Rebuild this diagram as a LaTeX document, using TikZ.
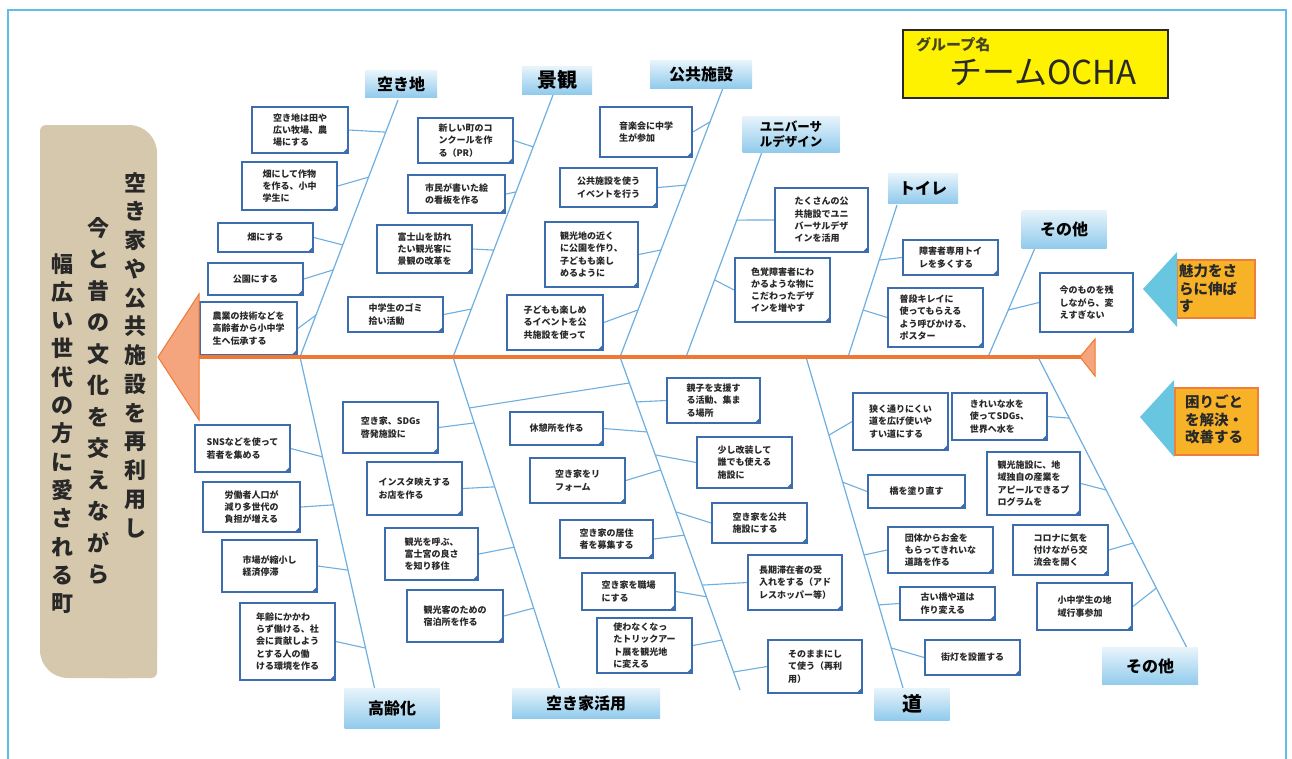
\documentclass[tikz,border=0pt]{standalone}
\usepackage{fontspec}
\setmainfont{Noto Sans CJK JP}
\usetikzlibrary{calc,shadings}
\pgfdeclarelayer{bg}
\pgfsetlayers{bg,main}

\definecolor{bonec}{RGB}{110,175,225}
\definecolor{notec}{RGB}{60,110,175}
\definecolor{spinec}{RGB}{240,120,50}
\definecolor{spinefill}{RGB}{245,165,125}
\definecolor{tanc}{RGB}{214,200,172}
\definecolor{framec}{RGB}{95,190,230}
\definecolor{labtop}{RGB}{232,244,251}
\definecolor{labbot}{RGB}{145,203,236}
\definecolor{orangebox}{RGB}{247,178,40}
\definecolor{orangeedge}{RGB}{240,125,60}
\definecolor{tricol}{RGB}{105,198,225}
\definecolor{yellowc}{RGB}{255,242,0}
\definecolor{inkc}{RGB}{40,40,40}
\definecolor{grpc}{RGB}{70,70,30}

\tikzset{
  bone/.style={draw=bonec, line width=1.2pt},
  twig/.style={draw=bonec, line width=1.1pt},
  note/.style={draw=notec, line width=1.7pt, fill=white, inner sep=0pt, align=left, text=inkc,
    font=\fontsize{9}{12.3}\selectfont\bfseries},
  cat/.style={top color=labtop, bottom color=labbot, draw=none, inner sep=0pt, align=left,
    font=\fontsize{16}{18}\selectfont\bfseries},
  vt/.style={anchor=north, align=center, inner sep=0pt, text=inkc},
  gbox/.style={fill=orangebox, draw=orangeedge, line width=1.5pt, inner sep=0pt},
  gtext/.style={anchor=north west, align=left, inner sep=0pt, text=inkc,
    font=\fontsize{14.5}{17.5}\selectfont\bfseries},
}

\newcommand\stickynote[6]{%
  \node[note, minimum width={(#4-#2)*1pt}, minimum height={(#5-#3)*1pt}] (#1) at ({(#2+#4)/2},{(#3+#5)/2}) {#6};
  \fill[notec] ([xshift=-7pt]#1.south east) -- ([yshift=7pt]#1.south east) -- ([xshift=-1.5pt,yshift=1.5pt]#1.south east) -- cycle;
}

\begin{document}
\begin{tikzpicture}[x=1pt,y=-1pt]
\useasboundingbox (0,0) rectangle (1292,758);

\begin{pgfonlayer}{bg}
\fill[white] (0,0) rectangle (1292,758);
% left banner
\fill[tanc, rounded corners=28pt] (40,125) rectangle (157,678);
\fill[tanc, rounded corners=6pt] (40,125) rectangle (100,400);
\fill[tanc, rounded corners=6pt] (100,400) rectangle (157,678);
\end{pgfonlayer}

% outer frame
\draw[framec, line width=1.5pt] (8,760) -- (8,10) -- (1286,10) -- (1286,760);

% ---------- left banner text ----------
\node[vt, font=\fontsize{22}{28.75}\selectfont\bfseries] (V1) at (135,172) {空\\き\\家\\や\\公\\共\\施\\設\\を\\再\\利\\用\\し};
\node[vt, font=\fontsize{22}{31.5}\selectfont\bfseries] (V2) at (98,217) {今\\と\\昔\\の\\文\\化\\を\\交\\え\\な\\が\\ら};
\node[vt, font=\fontsize{22}{28.3}\selectfont\bfseries] (V3) at (62,253) {幅\\広\\い\\世\\代\\の\\方\\に\\愛\\さ\\れ\\る\\町};

% ---------- title ----------
\node[fill=yellowc, draw=inkc, line width=1.6pt, minimum width=265pt, minimum height=68pt, inner sep=0pt] (title) at (1035.5,64) {};
\node[anchor=west, inner sep=0pt, text=grpc, font=\fontsize{15}{17}\selectfont\bfseries] (grp) at (916,45) {グループ名};
\node[inner sep=0pt, text=inkc, font=\fontsize{33}{36}\selectfont] (team) at (1043,73) {チームOCHA};

% ---------- category labels ----------
\node[cat, minimum width=72pt, minimum height=27pt] (L1) at (401,84) {空き地};
\node[cat, minimum width=70pt, minimum height=28pt, font=\fontsize{20}{22}\selectfont\bfseries] (L2) at (557,80) {景観};
\node[cat, minimum width=102pt, minimum height=28pt] (L3) at (701,74) {公共施設};
\node[cat, minimum width=97pt, minimum height=36pt, font=\fontsize{12.5}{15}\selectfont\bfseries] (L4) at (791,134) {ユニバーサ\\ルデザイン};
\node[cat, minimum width=70pt, minimum height=30pt] (L5) at (923,188) {トイレ};
\node[cat, minimum width=85pt, minimum height=38pt] (L6) at (1064,229) {その他};
\node[cat, minimum width=95pt, minimum height=40pt] (L7) at (392,708) {高齢化};
\node[cat, minimum width=148pt, minimum height=30pt] (L8) at (586,703) {空き家活用};
\node[cat, minimum width=75pt, minimum height=32pt, font=\fontsize{20}{22}\selectfont\bfseries] (L9) at (912,704) {道};
\node[cat, minimum width=96pt, minimum height=37pt] (L10) at (1150,666) {その他};

% ---------- sticky notes ----------
\stickynote{N1}{252}{107}{348}{153}{空き地は田や\\広い牧場、農\\場にする}
\stickynote{N2}{242}{162}{337}{210}{畑にして作物\\を作る、小中\\学生に}
\stickynote{N3}{218}{223}{313}{252}{畑にする}
\stickynote{N4}{208}{263}{303}{295}{公園にする}
\stickynote{N5}{200}{302}{297}{355}{農業の技術などを\\高齢者から小中学\\生へ伝承する}

\stickynote{K1}{418}{118}{513}{163}{新しい町のコ\\ンクールを作\\る（PR）}
\stickynote{K2}{408}{175}{505}{213}{市民が書いた絵\\の看板を作る}
\stickynote{K3}{377}{225}{472}{273}{富士山を訪れ\\たい観光客に\\景観の改革を}
\stickynote{K4}{348}{297}{443}{332}{中学生のゴミ\\拾い活動}

\stickynote{P1}{600}{107}{692}{157}{音楽会に中学\\生が参加}
\stickynote{P2}{560}{168}{657}{207}{公共施設を使う\\イベントを行う}
\stickynote{P3}{545}{222}{638}{287}{観光地の近く\\に公園を作り、\\子どもも楽し\\めるように}
\stickynote{P4}{507}{295}{603}{350}{子どもも楽しめ\\るイベントを公\\共施設を使って}

\stickynote{U1}{775}{188}{868}{252}{たくさんの公\\共施設でユニ\\バーサルデザ\\インを活用}
\stickynote{U2}{735}{258}{830}{322}{色覚障害者にわ\\かるような物に\\こだわったデザ\\インを増やす}

\stickynote{T1}{903}{240}{998}{275}{障害者専用トイ\\レを多くする}
\stickynote{T2}{888}{288}{983}{347}{普段キレイに\\使ってもらえる\\よう呼びかける、\\ポスター}

\stickynote{O1}{1040}{273}{1133}{332}{今のものを残\\しながら、変\\えすぎない}

\stickynote{E1}{195}{425}{290}{472}{SNSなどを使って\\若者を集める}
\stickynote{E2}{203}{482}{300}{532}{労働者人口が\\減り多世代の\\負担が増える}
\stickynote{E3}{222}{540}{317}{592}{市場が縮小し\\経済停滞}
\stickynote{E4}{240}{603}{335}{680}{年齢にかかわ\\らず働ける、社\\会に貢献しよう\\とする人の働\\ける環境を作る}

\stickynote{M1}{343}{402}{438}{453}{空き家、SDGs\\啓発施設に}
\stickynote{M2}{367}{462}{462}{515}{インスタ映えする\\お店を作る}
\stickynote{M3}{385}{528}{478}{580}{観光を呼ぶ、\\富士宮の良さ\\を知り移住}
\stickynote{M4}{407}{590}{503}{642}{観光客のための\\宿泊所を作る}

\stickynote{A1}{510}{412}{603}{445}{休憩所を作る}
\stickynote{A2}{530}{458}{625}{503}{空き家をリ\\フォーム}
\stickynote{A3}{560}{520}{653}{558}{空き家の居住\\者を募集する}
\stickynote{A4}{582}{573}{675}{610}{空き家を職場\\にする}
\stickynote{A5}{597}{618}{692}{673}{使わなくなっ\\たトリックアー\\ト展を観光地\\に変える}

\stickynote{R1}{667}{378}{760}{423}{親子を支援す\\る活動、集ま\\る場所}
\stickynote{R2}{697}{437}{792}{488}{少し改装して\\誰でも使える\\施設に}
\stickynote{R3}{712}{503}{807}{543}{空き家を公共\\施設にする}
\stickynote{R4}{748}{555}{842}{610}{長期滞在者の受\\入れをする（アド\\レスホッパー等）}
\stickynote{R5}{768}{640}{862}{693}{そのままにし\\て使う（再利\\用）}

\stickynote{D1}{853}{393}{948}{450}{狭く通りにくい\\道を広げ使いや\\すい道にする}
\stickynote{D2}{868}{475}{965}{508}{橋を塗り直す}
\stickynote{D3}{888}{527}{993}{573}{団体からお金を\\もらってきれいな\\道路を作る}
\stickynote{D4}{900}{587}{995}{620}{古い橋や道は\\作り変える}
\stickynote{D5}{925}{640}{1020}{675}{街灯を設置する}

\stickynote{S1}{952}{393}{1047}{440}{きれいな水を\\使ってSDGs、\\世界へ水を}
\stickynote{S2}{987}{452}{1080}{515}{観光施設に、地\\域独自の産業を\\アピールできるプ\\ログラムを}
\stickynote{S3}{1013}{525}{1108}{575}{コロナに気を\\付けながら交\\流会を開く}
\stickynote{S4}{1037}{583}{1132}{630}{小中学生の地\\域行事参加}

% ---------- bones and twigs ----------
\coordinate (b1t) at (398,100);  \coordinate (b1b) at (300,357);
\coordinate (b2t) at (553,95);   \coordinate (b2b) at (453,357);
\coordinate (b3t) at (723,88);   \coordinate (b3b) at (620,357);
\coordinate (b4t) at (762,152);  \coordinate (b4b) at (686,357);
\coordinate (b5t) at (897,205);  \coordinate (b5b) at (848,357);
\coordinate (b6t) at (1035,248); \coordinate (b6b) at (988,357);
\coordinate (b7t) at (300,357);  \coordinate (b7b) at (375,690);
\coordinate (b8t) at (453,357);  \coordinate (b8b) at (560,690);
\coordinate (b9t) at (620,357);  \coordinate (b9b) at (740,690);
\coordinate (b10t) at (806,357); \coordinate (b10b) at (903,688);
\coordinate (b11t) at (1038,357); \coordinate (b11b) at (1187,648);

\begin{pgfonlayer}{bg}
\foreach \i in {1,...,11} \draw[bone] (b\i t) -- (b\i b);

\draw[twig] (N1.east) -- ($(b1t)!0.125!(b1b)$);
\draw[twig] (N2.east) -- ($(b1t)!0.30!(b1b)$);
\draw[twig] (N3.east) -- ($(b1t)!0.564!(b1b)$);
\draw[twig] (N4.east) -- ($(b1t)!0.661!(b1b)$);
\draw[twig] (N5.east) -- ($(b1t)!0.837!(b1b)$);

\draw[twig] (K1.east) -- ($(b2t)!0.198!(b2b)$);
\draw[twig] (K2.east) -- ($(b2t)!0.370!(b2b)$);
\draw[twig] (K3.east) -- ($(b2t)!0.592!(b2b)$);
\draw[twig] (K4.east) -- ($(b2t)!0.817!(b2b)$);

\draw[twig] (P1.east) -- ($(b3t)!0.126!(b3b)$);
\draw[twig] (P2.east) -- ($(b3t)!0.361!(b3b)$);
\draw[twig] (P3.east) -- ($(b3t)!0.602!(b3b)$);
\draw[twig] (P4.east) -- ($(b3t)!0.825!(b3b)$);

\draw[twig] (U1.west) -- ($(b4t)!0.332!(b4b)$);
\draw[twig] (U2.west) -- ($(b4t)!0.624!(b4b)$);

\draw[twig] (T1.west) -- ($(b5t)!0.362!(b5b)$);
\draw[twig] (T2.west) -- ($(b5t)!0.691!(b5b)$);

\draw[twig] (O1.west) -- ($(b6t)!0.569!(b6b)$);

\draw[twig] (E1.east) -- ($(b7t)!0.30!(b7b)$);
\draw[twig] (E2.east) -- ($(b7t)!0.444!(b7b)$);
\draw[twig] (E3.east) -- ($(b7t)!0.64!(b7b)$);
\draw[twig] (E4.east) -- ($(b7t)!0.874!(b7b)$);

\draw[twig] (M1.east) -- ($(b8t)!0.198!(b8b)$);
\draw[twig] (M2.east) -- ($(b8t)!0.39!(b8b)$);
\draw[twig] (M3.east) -- ($(b8t)!0.571!(b8b)$);
\draw[twig] (M4.east) -- ($(b8t)!0.754!(b8b)$);

\draw[twig] ($(b8t)!0.153!(b8b)$) -- ($(b9t)!0.078!(b9b)$);

\draw[twig] (A1.east) -- ($(b9t)!0.225!(b9b)$);
\draw[twig] (A2.east) -- ($(b9t)!0.339!(b9b)$);
\draw[twig] (A3.east) -- ($(b9t)!0.535!(b9b)$);
\draw[twig] (A4.east) -- ($(b9t)!0.72!(b9b)$);
\draw[twig] (A5.east) -- ($(b9t)!0.85!(b9b)$);
\draw[twig] (R1.west) -- ($(b9t)!0.135!(b9b)$);
\draw[twig] (R2.west) -- ($(b9t)!0.294!(b9b)$);
\draw[twig] (R3.west) -- ($(b9t)!0.465!(b9b)$);
\draw[twig] (R4.west) -- ($(b9t)!0.685!(b9b)$);
\draw[twig] (R5.west) -- ($(b9t)!0.946!(b9b)$);

\draw[twig] (D1.west) -- ($(b10t)!0.236!(b10b)$);
\draw[twig] (D2.west) -- ($(b10t)!0.378!(b10b)$);
\draw[twig] (D3.west) -- ($(b10t)!0.598!(b10b)$);
\draw[twig] (D4.west) -- ($(b10t)!0.749!(b10b)$);
\draw[twig] (D5.west) -- ($(b10t)!0.879!(b10b)$);

\draw[twig] (S1.east) -- ($(b11t)!0.21!(b11b)$);
\draw[twig] (S2.east) -- ($(b11t)!0.457!(b11b)$);
\draw[twig] (S3.east) -- ($(b11t)!0.639!(b11b)$);
\draw[twig] (S4.east) -- ($(b11t)!0.794!(b11b)$);
\end{pgfonlayer}

% ---------- spine ----------
\coordinate (spL) at (197,357);
\coordinate (spR) at (1083,357);
\draw[spinec, line width=4pt] (spL) -- (spR);
\filldraw[fill=spinefill, draw=spinec, line width=1pt] (158,357) -- (199,294) -- (199,420) -- cycle;
\filldraw[fill=spinefill, draw=spinec, line width=1pt] (1080,357) -- (1095,339) -- (1095,376) -- cycle;

% ---------- right-hand arrows ----------
\node[gbox, minimum width=78pt, minimum height=58pt] (G1) at (1216,289) {};
\fill[tricol] (1143,289) -- (1177,252) -- (1177,327) -- cycle;
\node[gtext] (G1t) at (1179,264) {魅力をさ\\らに伸ば\\す};

\node[gbox, minimum width=83pt, minimum height=67pt] (G2) at (1216.5,421.5) {};
\fill[tricol] (1140,417) -- (1174,380) -- (1174,457) -- cycle;
\node[gtext] (G2t) at (1185,395) {困りごと\\を解決・\\改善する};

\end{tikzpicture}
\end{document}
